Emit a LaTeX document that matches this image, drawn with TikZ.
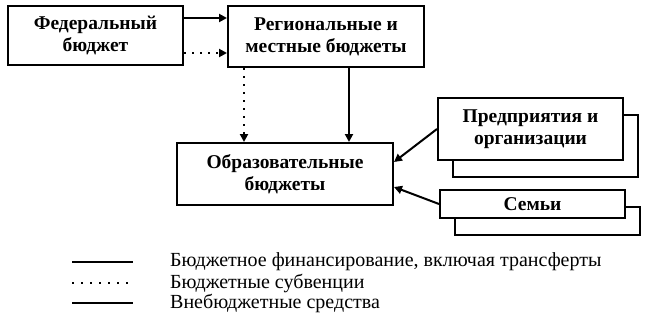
\documentclass[tikz,border=0pt]{standalone}
\usepackage{fontspec}
\setmainfont{Liberation Serif}
\usetikzlibrary{arrows.meta,positioning,shadows}

\begin{document}
\begin{tikzpicture}[x=1pt,y=-1pt,
	box/.style={draw, line width=2pt, fill=white, align=center, inner sep=0pt,
		font=\fontsize{19.5}{22}\selectfont\bfseries},
	stack/.style={box, copy shadow={shadow xshift=15pt, shadow yshift=-17pt,
		draw=black, fill=white, line width=2pt}},
	flow/.style={line width=2pt, -{Triangle[length=8pt,width=8pt]}},
	subv/.style={flow, dash pattern=on 2pt off 6pt},
	legsolid/.style={line width=2pt},
	legdot/.style={line width=1.6pt, dash pattern=on 2pt off 7pt},
	legtext/.style={anchor=west, inner sep=0pt, font=\fontsize{20}{22}\selectfont}]
			\useasboundingbox (0,0) rectangle (655,316);
			
			% Budgets
			\node[box, minimum width=175pt, minimum height=59pt] (fed) at (95.5,35.5) {Федеральный\\бюджет};
			\node[box, minimum width=196pt, minimum height=61pt] (reg) at (326,36.5) {Региональные и\\местные бюджеты};
			\node[box, minimum width=216pt, minimum height=62pt] (edu) at (285,174) {Образовательные\\бюджеты};
			
			% Non-budget sources
			\node[stack, minimum width=185pt, minimum height=62pt] (firm) at (530.5,129) {Предприятия и\\организации};
			\node[stack, minimum width=185pt, minimum height=28pt] (fam) at (532.5,204) {Семьи};
			
			% Flows
			\draw[flow] ([yshift=17.5pt]fed.east) -- ([yshift=17.5pt]fed.east -| reg.west);
			\draw[subv] ([yshift=-17.5pt]fed.east) -- ([yshift=-17.5pt]fed.east -| reg.west);
			\draw[subv] ([xshift=17pt]reg.south west) -- ([xshift=17pt]reg.south west |- edu.north);
			\draw[flow] ([xshift=-76pt]reg.south east) -- ([xshift=-76pt]reg.south east |- edu.north);
			\draw[flow] (firm.west) -- ([yshift=12pt]edu.east);
			\draw[flow] (fam.west) -- ([yshift=-13pt]edu.east);
			
			% Legend
			\foreach \y/\sty/\txt [count=\i] in {
				262/legsolid/{Бюджетное финансирование, включая трансферты},
				283/legdot/{Бюджетные субвенции},
				303/legsolid/{Внебюджетные средства}} {
				\node[legtext] (leg\i) at (170,\y) {\txt};
				\draw[\sty] ([xshift=-98pt]leg\i.west) -- ([xshift=-37pt]leg\i.west);
			}
		\end{tikzpicture}
\end{document}
